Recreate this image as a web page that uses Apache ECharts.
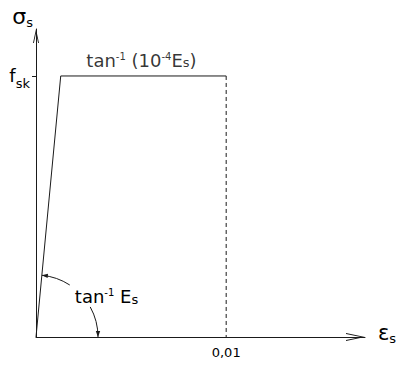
<!DOCTYPE html>
<html>
<head>
<meta charset="utf-8">
<script src="https://cdn.jsdelivr.net/npm/echarts@6/dist/echarts.min.js"></script>
<style>
  html, body { margin: 0; padding: 0; background: #fff; }
  #chart { width: 400px; height: 365px; }
</style>
</head>
<body>
<div id="chart"></div>
<script>
// Idealised elastic / perfectly-plastic design law for reinforcing steel.
// Strain points (εs) and stress points (σs, normalised by fsk).
const strain = [0, 0.0013, 0.01];
const stress = [0, 1, 1];
const fsk = 1;
const epsLimit = 0.01;

// Tick values and their printed labels
const xTickValues = [0.01];
const xTickLabels = ['0,01'];
const yTickValues = [fsk];

// Axis ranges
const strainMax = 0.0173;
const stressMax = 1.18;

const FONT = 'DejaVu Sans';
const INK = '#000';
const LINE = '#1a1a1a';

// shared rich-text styles for sub/superscripts
const richBase = {
  b:   { fontFamily: FONT, fontSize: 18, lineHeight: 18, verticalAlign: 'top', color: INK },
  sup: { fontFamily: FONT, fontSize: 10, lineHeight: 10, verticalAlign: 'top', color: INK },
  sub: { fontFamily: FONT, fontSize: 13, lineHeight: 13, verticalAlign: 'top', color: INK, padding: [5, 0, 0, 0] }
};

// open chevron arrowheads for the axes (pointing up before rotation)
const chevX = 'path://M4,0 L8,19 L7.1,19 L4,4.4 L0.9,19 L0,19 Z';
const chevY = 'path://M3,0 L6,14 L5.1,14 L3,4.2 L0.9,14 L0,14 Z';

const chart = echarts.init(document.getElementById('chart'), null, { renderer: 'svg' });

const DEG = Math.PI / 180;

chart.setOption({
  animation: false,
  backgroundColor: '#fff',
  grid: { left: 36, right: 35, top: 29, bottom: 28, containLabel: false, outerBoundsMode: 'none' },
  xAxis: {
    type: 'value',
    min: 0,
    max: strainMax,
    name: '{e|ε}{s|s}',
    nameLocation: 'end',
    nameGap: 13,
    nameTextStyle: {
      padding: [0, 0, 8, 0],
      rich: {
        e: { fontFamily: FONT, fontSize: 21, lineHeight: 21, verticalAlign: 'top', color: INK },
        s: { fontFamily: FONT, fontSize: 13, lineHeight: 13, verticalAlign: 'top', color: INK, padding: [9, 0, 0, 0] }
      }
    },
    axisLine: {
      show: true,
      onZero: false,
      symbol: ['none', chevX],
      symbolSize: [8, 19],
      symbolOffset: [0, -9.5],
      lineStyle: { color: LINE, width: 1 }
    },
    axisTick: { show: false },
    splitLine: { show: false },
    axisLabel: {
      customValues: xTickValues,
      margin: 9,
      fontFamily: FONT,
      fontSize: 13,
      color: INK,
      formatter: function (v) {
        let best = 0;
        xTickValues.forEach(function (t, i) {
          if (Math.abs(t - v) < Math.abs(xTickValues[best] - v)) best = i;
        });
        return xTickLabels[best];
      }
    }
  },
  yAxis: {
    type: 'value',
    min: 0,
    max: stressMax,
    name: '{g|σ}{s|s}',
    nameLocation: 'end',
    nameGap: 2,
    nameTextStyle: {
      align: 'right',
      padding: [0, 3, 0, 0],
      rich: {
        g: { fontFamily: FONT, fontSize: 22, lineHeight: 22, verticalAlign: 'top', color: INK },
        s: { fontFamily: FONT, fontSize: 13, lineHeight: 13, verticalAlign: 'top', color: INK, padding: [11, 0, 0, 0] }
      }
    },
    axisLine: {
      show: true,
      onZero: false,
      symbol: ['none', chevY],
      symbolSize: [6, 14],
      symbolOffset: [0, -7],
      lineStyle: { color: LINE, width: 1 }
    },
    axisTick: {
      show: true,
      customValues: yTickValues,
      length: 4,
      lineStyle: { color: LINE, width: 1 }
    },
    splitLine: { show: false },
    axisLabel: {
      customValues: yTickValues,
      margin: 6,
      formatter: function () { return '{f|f}{k|sk}'; },
      rich: {
        f: { fontFamily: FONT, fontSize: 18, lineHeight: 18, verticalAlign: 'top', color: INK },
        k: { fontFamily: FONT, fontSize: 13, lineHeight: 13, verticalAlign: 'top', color: INK, padding: [10, 0, 0, 0] }
      }
    }
  },
  series: [
    {
      // elastic branch and yield plateau
      type: 'line',
      data: strain.map(function (e, i) { return [e, stress[i]]; }),
      symbol: 'none',
      lineStyle: { color: LINE, width: 1 },
      z: 3
    },
    {
      // strain limit
      type: 'line',
      data: [[epsLimit, fsk], [epsLimit, 0]],
      symbol: 'none',
      lineStyle: { color: LINE, width: 1, type: [4, 3] },
      z: 2
    },
    {
      // plateau slope annotation
      type: 'scatter',
      data: [[(strain[1] + strain[2]) / 2, fsk]],
      symbolSize: 1,
      itemStyle: { color: 'rgba(0,0,0,0)' },
      silent: true,
      z: 5,
      label: {
        show: true,
        position: 'top',
        distance: 6,
        offset: [-2, 0],
        color: INK,
        formatter: '{b|tan}{sup|-1}{b| (10}{sup|-4}{b|E}{sub|s}{b|)}',
        rich: richBase
      }
    },
    {
      // angle arc for the elastic modulus, with its label
      type: 'custom',
      coordinateSystem: 'cartesian2d',
      silent: true,
      data: [[strain[0], stress[0]]],
      renderItem: function (params, api) {
        const o = api.coord([strain[0], stress[0]]);
        const yp = api.coord([strain[1], stress[1]]);
        const lineAng = Math.atan2(o[1] - yp[1], yp[0] - o[0]);
        const R = 62;
        const gapLo = 29 * DEG;
        const gapHi = 57 * DEG;

        function head(a, sign) {
          const p = [o[0] + R * Math.cos(a), o[1] - R * Math.sin(a)];
          const d = [-sign * Math.sin(a), -sign * Math.cos(a)];
          const n = [-d[1], d[0]];
          const L = 6, W = 2.2;
          const bx = p[0] - L * d[0], by = p[1] - L * d[1];
          return {
            type: 'polygon',
            shape: { points: [p, [bx + W * n[0], by + W * n[1]], [bx - W * n[0], by - W * n[1]]] },
            style: { fill: LINE, stroke: null }
          };
        }

        const mid = (gapLo + gapHi) / 2;
        const anchor = [o[0] + R * Math.cos(mid), o[1] - R * Math.sin(mid)];

        return {
          type: 'group',
          children: [
            {
              type: 'arc',
              shape: { cx: o[0], cy: o[1], r: R, startAngle: -gapLo, endAngle: 0, clockwise: true },
              style: { stroke: LINE, fill: null, lineWidth: 1 }
            },
            {
              type: 'arc',
              shape: { cx: o[0], cy: o[1], r: R, startAngle: -lineAng, endAngle: -gapHi, clockwise: true },
              style: { stroke: LINE, fill: null, lineWidth: 1 }
            },
            head(0, -1),
            head(lineAng, 1),
            {
              type: 'text',
              style: {
                text: '{b|tan}{sup|-1}{b| E}{sub|s}',
                x: anchor[0] - 6.5,
                y: anchor[1] + 2,
                align: 'left',
                verticalAlign: 'middle',
                fontFamily: FONT,
                fontSize: 18,
                fill: INK,
                rich: richBase
              }
            }
          ]
        };
      }
    }
  ]
});
</script>
</body>
</html>
